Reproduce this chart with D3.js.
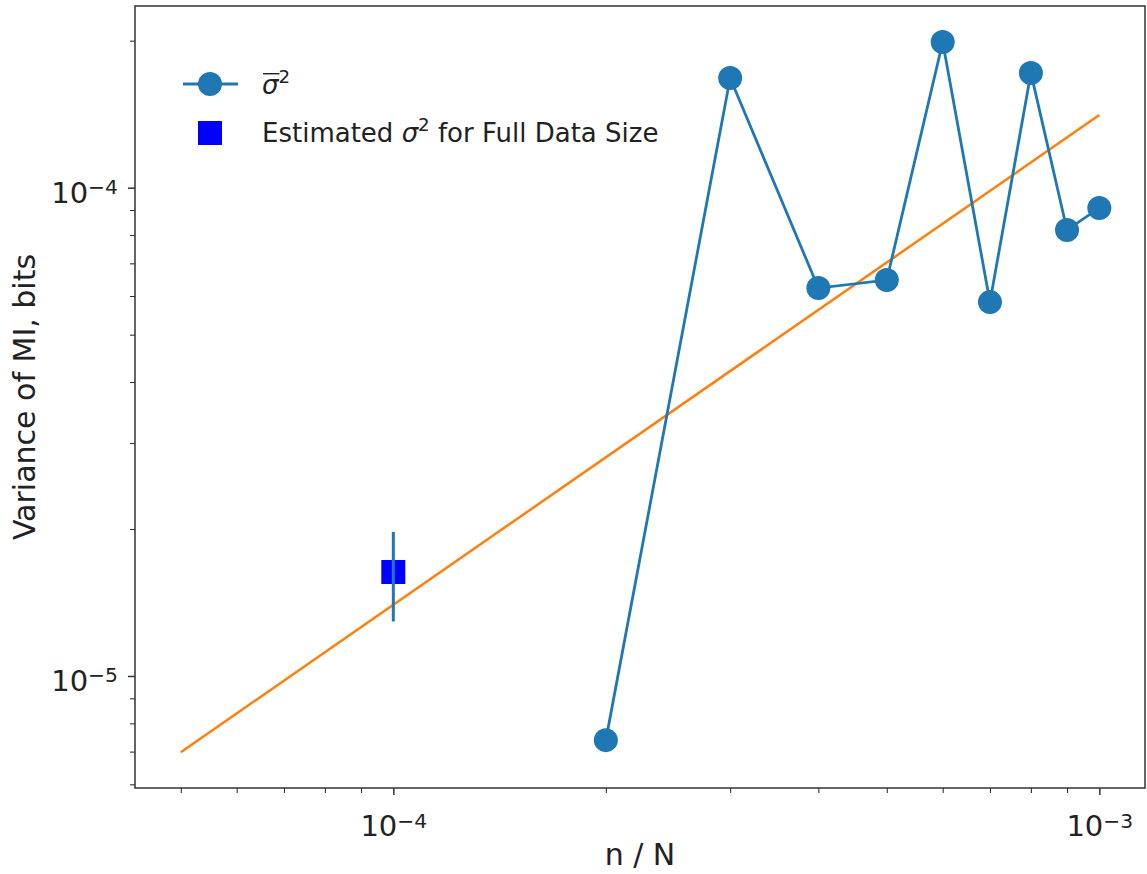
<!DOCTYPE html>
<html>
<head>
<meta charset="utf-8">
<script src="https://cdn.jsdelivr.net/npm/d3@7"></script>
<style>
  body { margin: 0; background: #fff; }
  svg { display: block; font-family: "DejaVu Sans", sans-serif; }
</style>
</head>
<body>
<div id="chart"></div>
<script>
// data
const nRatio = [2e-4, 3e-4, 4e-4, 5e-4, 6e-4, 7e-4, 8e-4, 9e-4, 1e-3];
const varMean = [7.39e-6, 1.677e-4, 6.23e-5, 6.47e-5, 1.988e-4, 5.83e-5, 1.718e-4, 8.19e-5, 9.09e-5];

const fitX = [5e-5, 1e-3];
const fitY = [6.98e-6, 1.409e-4];

const fullX = [1e-4];
const fullY = [1.633e-5];
const fullErr = [3.4e-6];

const xMajor = [1e-4, 1e-3];
const xMajorExp = ["−4", "−3"];
const yMajor = [1e-5, 1e-4];
const yMajorExp = ["−5", "−4"];

const width = 1147;
const height = 874;
const plotLeft = 135, plotRight = 1145, plotTop = 6, plotBottom = 788;

const blue = "#1f77b4";
const orange = "#ff7f0e";

const svg = d3.select("#chart").append("svg").attr("width", width).attr("height", height);

const xScale = d3.scaleLog().domain([Math.pow(10, -4.3659), Math.pow(10, -2.9353)]).range([plotLeft, plotRight]);
const yScale = d3.scaleLog().domain([Math.pow(10, -5.2294), Math.pow(10, -3.6279)]).range([plotBottom, plotTop]);

// minor ticks
const xMinor = [];
const yMinor = [];
[-5, -4, -3].forEach((e) => {
  for (let m = 2; m < 10; m++) {
    const v = m * Math.pow(10, e);
    if (v > xScale.domain()[0] && v < xScale.domain()[1]) xMinor.push(v);
  }
});
[-6, -5, -4].forEach((e) => {
  for (let m = 2; m < 10; m++) {
    const v = m * Math.pow(10, e);
    if (v > yScale.domain()[0] && v < yScale.domain()[1]) yMinor.push(v);
  }
});

const fontSize = 29;

// x axis
const xAxisMinor = d3.axisBottom(xScale).tickValues(xMinor).tickSize(5).tickFormat("");
const xAxis = d3.axisBottom(xScale).tickValues(xMajor).tickSize(7).tickPadding(8).tickFormat("");

svg.append("g").attr("transform", `translate(0, ${plotBottom})`).call(xAxisMinor)
  .call((g) => g.select(".domain").remove())
  .call((g) => g.selectAll("line").attr("stroke", "#333").attr("stroke-width", 1.1));

const gx = svg.append("g").attr("transform", `translate(0, ${plotBottom})`).call(xAxis);
gx.select(".domain").remove();
gx.selectAll("line").attr("stroke", "#333").attr("stroke-width", 1.5);
gx.selectAll(".tick text")
  .attr("font-size", fontSize)
  .attr("font-family", "DejaVu Sans")
  .attr("fill", "#222")
  .attr("dy", "1.15em")
  .each(function (d, i) {
    const t = d3.select(this);
    t.append("tspan").text("10");
    t.append("tspan").attr("dy", "-0.42em").attr("font-size", "0.7em").text(xMajorExp[i]);
  });

// y axis
const yAxisMinor = d3.axisLeft(yScale).tickValues(yMinor).tickSize(5).tickFormat("");
const yAxis = d3.axisLeft(yScale).tickValues(yMajor).tickSize(7).tickPadding(10).tickFormat("");

svg.append("g").attr("transform", `translate(${plotLeft}, 0)`).call(yAxisMinor)
  .call((g) => g.select(".domain").remove())
  .call((g) => g.selectAll("line").attr("stroke", "#333").attr("stroke-width", 1.1));

const gy = svg.append("g").attr("transform", `translate(${plotLeft}, 0)`).call(yAxis);
gy.select(".domain").remove();
gy.selectAll("line").attr("stroke", "#333").attr("stroke-width", 1.5);
gy.selectAll(".tick text")
  .attr("font-size", fontSize)
  .attr("font-family", "DejaVu Sans")
  .attr("fill", "#222")
  .attr("dy", "0.5em")
  .each(function (d, i) {
    const t = d3.select(this);
    t.append("tspan").text("10");
    t.append("tspan").attr("dy", "-0.42em").attr("font-size", "0.7em").text(yMajorExp[i]);
  });

// frame
svg.append("rect")
  .attr("x", plotLeft).attr("y", plotTop)
  .attr("width", plotRight - plotLeft).attr("height", plotBottom - plotTop)
  .attr("fill", "none").attr("stroke", "#333").attr("stroke-width", 1.5);

// axis labels
svg.append("text")
  .attr("x", (plotLeft + plotRight) / 2).attr("y", 865)
  .attr("text-anchor", "middle")
  .attr("font-size", 30).attr("fill", "#222")
  .text("n / N");

svg.append("text")
  .attr("transform", `translate(35, ${(plotTop + plotBottom) / 2}) rotate(-90)`)
  .attr("text-anchor", "middle")
  .attr("font-size", 30).attr("fill", "#222")
  .text("Variance of MI, bits");

// fit line
const fitData = fitX.map((x, i) => [x, fitY[i]]);
svg.append("path")
  .datum(fitData)
  .attr("fill", "none")
  .attr("stroke", orange)
  .attr("stroke-width", 2.5)
  .attr("d", d3.line().x((d) => xScale(d[0])).y((d) => yScale(d[1])));

// mean variance series
const meanData = nRatio.map((x, i) => [x, varMean[i]]);
svg.append("path")
  .datum(meanData)
  .attr("fill", "none")
  .attr("stroke", blue)
  .attr("stroke-width", 2.8)
  .attr("d", d3.line().x((d) => xScale(d[0])).y((d) => yScale(d[1])));

svg.selectAll(".dot")
  .data(meanData)
  .enter()
  .append("circle")
  .attr("class", "dot")
  .attr("cx", (d) => xScale(d[0]))
  .attr("cy", (d) => yScale(d[1]))
  .attr("r", 12)
  .attr("fill", blue);

// estimate for full data size with error bar
const sq = 24;
svg.selectAll(".full")
  .data(fullX)
  .enter()
  .append("rect")
  .attr("class", "full")
  .attr("x", (d) => xScale(d) - sq / 2)
  .attr("y", (d, i) => yScale(fullY[i]) - sq / 2)
  .attr("width", sq).attr("height", sq)
  .attr("fill", "#0000ff");

svg.selectAll(".err")
  .data(fullX)
  .enter()
  .append("line")
  .attr("class", "err")
  .attr("x1", (d) => xScale(d)).attr("x2", (d) => xScale(d))
  .attr("y1", (d, i) => yScale(fullY[i] + fullErr[i]))
  .attr("y2", (d, i) => yScale(fullY[i] - fullErr[i]))
  .attr("stroke", blue)
  .attr("stroke-width", 3);

// legend
const legend = svg.append("g");
const legFont = 26;
const supShift = 11;

legend.append("line")
  .attr("x1", 183).attr("x2", 238).attr("y1", 84).attr("y2", 84)
  .attr("stroke", blue).attr("stroke-width", 2.8);
legend.append("circle").attr("cx", 210).attr("cy", 84).attr("r", 12).attr("fill", blue);

const sig = legend.append("text")
  .attr("x", 262).attr("y", 94)
  .attr("font-size", legFont).attr("fill", "#222");
sig.append("tspan").attr("font-style", "italic").text("σ");
sig.append("tspan").attr("dy", -supShift).attr("font-size", legFont * 0.7).text("2");
// overline over sigma
const sigBox = sig.node().getExtentOfChar(0);
legend.append("line")
  .attr("x1", sigBox.x + 1).attr("x2", sigBox.x + sigBox.width + 1)
  .attr("y1", 94 - legFont * 0.78).attr("y2", 94 - legFont * 0.78)
  .attr("stroke", "#222").attr("stroke-width", 1.4);

legend.append("rect")
  .attr("x", 210 - sq / 2).attr("y", 133 - sq / 2)
  .attr("width", sq).attr("height", sq)
  .attr("fill", "#0000ff");

const est = legend.append("text")
  .attr("x", 262).attr("y", 142)
  .attr("font-size", legFont).attr("fill", "#222");
est.append("tspan").text("Estimated ");
est.append("tspan").attr("font-style", "italic").text("σ");
est.append("tspan").attr("dy", -supShift).attr("font-size", legFont * 0.7).text("2");
est.append("tspan").attr("dy", supShift).text(" for Full Data Size");
</script>
</body>
</html>
